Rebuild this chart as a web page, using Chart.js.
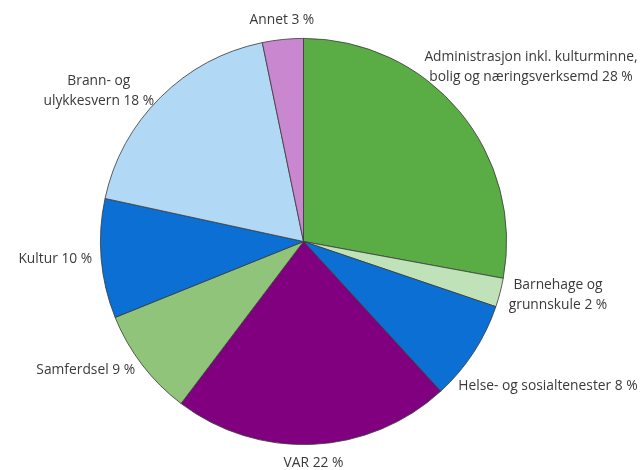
<!DOCTYPE html>
<html>
<head>
<meta charset="utf-8">
<script src="https://cdn.jsdelivr.net/npm/chart.js@4.4.1/dist/chart.umd.min.js"></script>
<style>
  body { margin: 0; background: #fff; }
</style>
</head>
<body>
<canvas id="pieChart" width="643" height="470"></canvas>
<script>
var categories = [
  ['Administrasjon inkl. kulturminne,', 'bolig og næringsverksemd'],
  ['Barnehage og', 'grunnskule'],
  ['Helse- og sosialtenester'],
  ['VAR'],
  ['Samferdsel'],
  ['Kultur'],
  ['Brann- og', 'ulykkesvern'],
  ['Annet']
];
var values = [27.9, 2.3, 8.0, 22.1, 8.6, 9.5, 18.35, 3.25];
var colors = ['#5aad45', '#c0e2b8', '#0b6fd4', '#800080', '#90c47a', '#0b6fd4', '#b1d8f5', '#c987cf'];

// labels outside the pie, slid along the circle if they run off the canvas
var outsideLabels = {
  id: 'outsideLabels',
  afterDatasetsDraw: function(chart) {
    var ctx = chart.ctx;
    var meta = chart.getDatasetMeta(0);
    var lineH = 20, gap = 9, pad = 5;
    ctx.save();
    ctx.font = '13.8px "Open Sans"';
    ctx.fillStyle = '#3a3a3a';
    ctx.textAlign = 'center';
    ctx.textBaseline = 'middle';
    meta.data.forEach(function(arc, i) {
      var lines = categories[i].slice();
      lines[lines.length - 1] += ' ' + Math.round(values[i]) + ' %';
      var w = 0;
      lines.forEach(function(l) { w = Math.max(w, ctx.measureText(l).width); });
      var h = lines.length * lineH;
      var dist = arc.outerRadius + gap;
      function box(a) {
        var sx = Math.cos(a), sy = Math.sin(a);
        var px = arc.x + dist * sx, py = arc.y + dist * sy;
        var left = sx > 0.3 ? px : (sx < -0.3 ? px - w : px - w / 2);
        var top = sy < -0.9 ? py - h : (sy > 0.9 ? py : py - h / 2);
        return { left: left, top: top };
      }
      var a = (arc.startAngle + arc.endAngle) / 2;
      var b = box(a), n = 0;
      while ((b.left < pad || b.left + w > chart.width - pad) && n < 300) {
        a += 0.005 * Math.sign(Math.sin(a) * Math.cos(a));
        b = box(a);
        n++;
      }
      lines.forEach(function(l, j) {
        ctx.fillText(l, b.left + w / 2, b.top + lineH * (j + 0.5));
      });
    });
    ctx.restore();
  }
};

var pieChart = new Chart(document.getElementById('pieChart'), {
  type: 'pie',
  data: {
    labels: categories.map(function(c) { return c.join(' '); }),
    datasets: [{
      data: values,
      backgroundColor: colors,
      borderColor: '#3a3a3a',
      borderWidth: 0.8
    }]
  },
  options: {
    responsive: false,
    animation: false,
    layout: { padding: { left: 100, right: 136, top: 38, bottom: 25 } },
    plugins: {
      legend: { display: false },
      tooltip: { enabled: false }
    }
  },
  plugins: [outsideLabels]
});
</script>
</body>
</html>
